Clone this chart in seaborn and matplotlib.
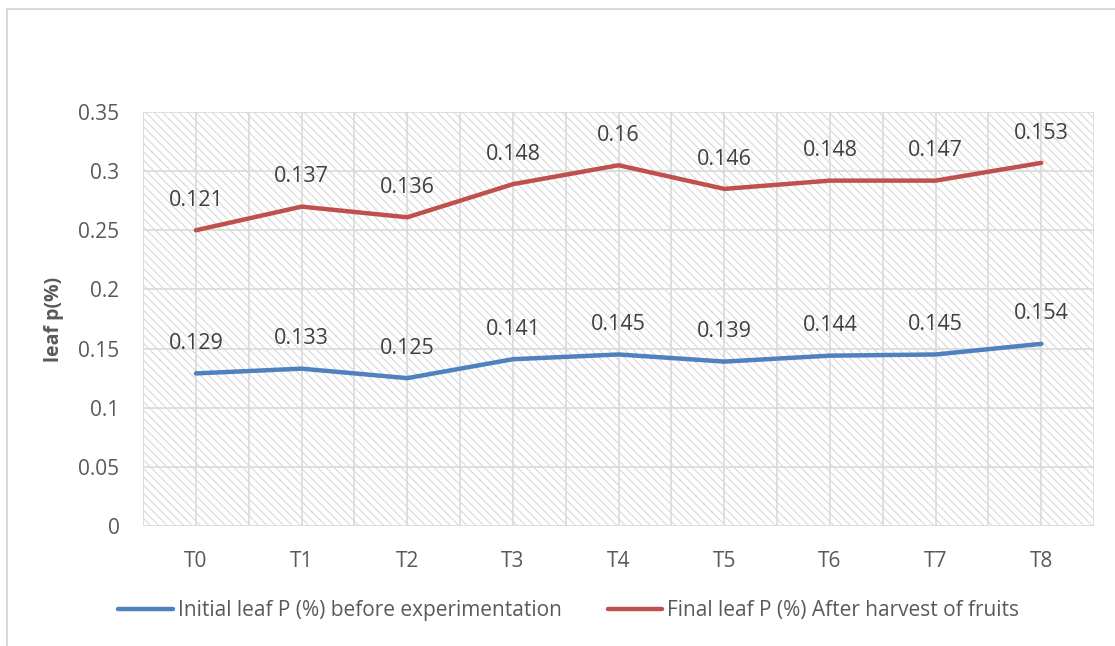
import numpy as np
import pandas as pd
import matplotlib
matplotlib.use('Agg')
import matplotlib.pyplot as plt
from matplotlib.patches import Rectangle
from matplotlib.lines import Line2D
import seaborn as sns

treatments = ['T0', 'T1', 'T2', 'T3', 'T4', 'T5', 'T6', 'T7', 'T8']
initial_p = [0.129, 0.133, 0.125, 0.141, 0.145, 0.139, 0.144, 0.145, 0.154]
final_p = [0.121, 0.137, 0.136, 0.148, 0.16, 0.146, 0.148, 0.147, 0.153]
yticks = [0, 0.05, 0.1, 0.15, 0.2, 0.25, 0.3, 0.35]
ytick_labels = ['0', '0.05', '0.1', '0.15', '0.2', '0.25', '0.3', '0.35']
name_initial = 'Initial leaf P (%) before experimentation'
name_final = 'Final leaf P (%) After harvest of fruits'

# stacked line chart: second series sits on top of the first
stacked_final = np.array(initial_p) + np.array(final_p)
df = pd.DataFrame({
    'treatment': treatments * 2,
    'value': list(initial_p) + list(stacked_final),
    'label': list(initial_p) + list(final_p),
    'series': [name_initial] * 9 + [name_final] * 9,
})

sns.set_theme(style='white')
plt.rcParams['font.family'] = ['Open Sans', 'DejaVu Sans']
plt.rcParams['hatch.linewidth'] = 0.8
plt.rcParams['hatch.color'] = '#d4d4d4'

txt = '#595959'
grid = '#d9d9d9'
colors = {name_initial: '#4F81BD', name_final: '#C0504D'}

fig = plt.figure(figsize=(11.15, 6.46), dpi=100)
ax = fig.add_axes([0.1283, 0.1858, 0.8530, 0.6408])

ax.add_patch(Rectangle((0, 0), 1, 1, transform=ax.transAxes, facecolor='white',
                       edgecolor=grid, hatch='\\\\\\\\', lw=0, zorder=0))

df['x'] = df['treatment'].map({t: i for i, t in enumerate(treatments)})
sns.lineplot(data=df, x='x', y='value', hue='series', palette=colors, lw=3.2,
             legend=False, ax=ax, zorder=3)

ax.set_xlim(-0.5, len(treatments) - 0.5)
ax.set_ylim(0, 0.35)
ax.set_yticks(yticks)
ax.set_yticklabels(ytick_labels)
ax.set_xticks(range(len(treatments)))
ax.set_xticklabels(treatments)
for v in np.arange(-0.5, len(treatments), 0.5):
    ax.axvline(v, color=grid, lw=1.2, zorder=1)
for v in yticks:
    ax.axhline(v, color=grid, lw=1.2, zorder=1)
for s in ax.spines.values():
    s.set_visible(False)
ax.tick_params(axis='both', length=0, labelsize=15, colors=txt)
ax.tick_params(axis='y', pad=17)
ax.tick_params(axis='x', pad=18)
ax.set_xlabel('')
ax.set_ylabel('leaf p(%)', fontsize=14, fontweight='bold', color=txt, labelpad=10)

for _, r in df.iterrows():
    ax.annotate(f"{r['label']:g}", (r['x'], r['value']), xytext=(0, 21.5),
                textcoords='offset points', ha='center', va='center',
                fontsize=15.5, color='#404040', zorder=4)

handles = [Line2D([], [], color=colors[n], lw=3.2, solid_capstyle='round') for n in [name_initial, name_final]]
fig.legend(handles, [name_initial, name_final], loc='center', bbox_to_anchor=(0.51, 0.055),
           ncol=2, frameon=False, fontsize=15, handlelength=2.6, handletextpad=0.25,
           columnspacing=2.2, labelcolor=txt)

# chart frame (only top and left edges visible in the crop)
fig.add_artist(Line2D([0.0063, 1.0], [0.9868, 0.9868], transform=fig.transFigure, color=grid, lw=1.5))
fig.add_artist(Line2D([0.0063, 0.0063], [0.0, 0.9868], transform=fig.transFigure, color=grid, lw=1.5))

fig.savefig('out.png', dpi=100)
